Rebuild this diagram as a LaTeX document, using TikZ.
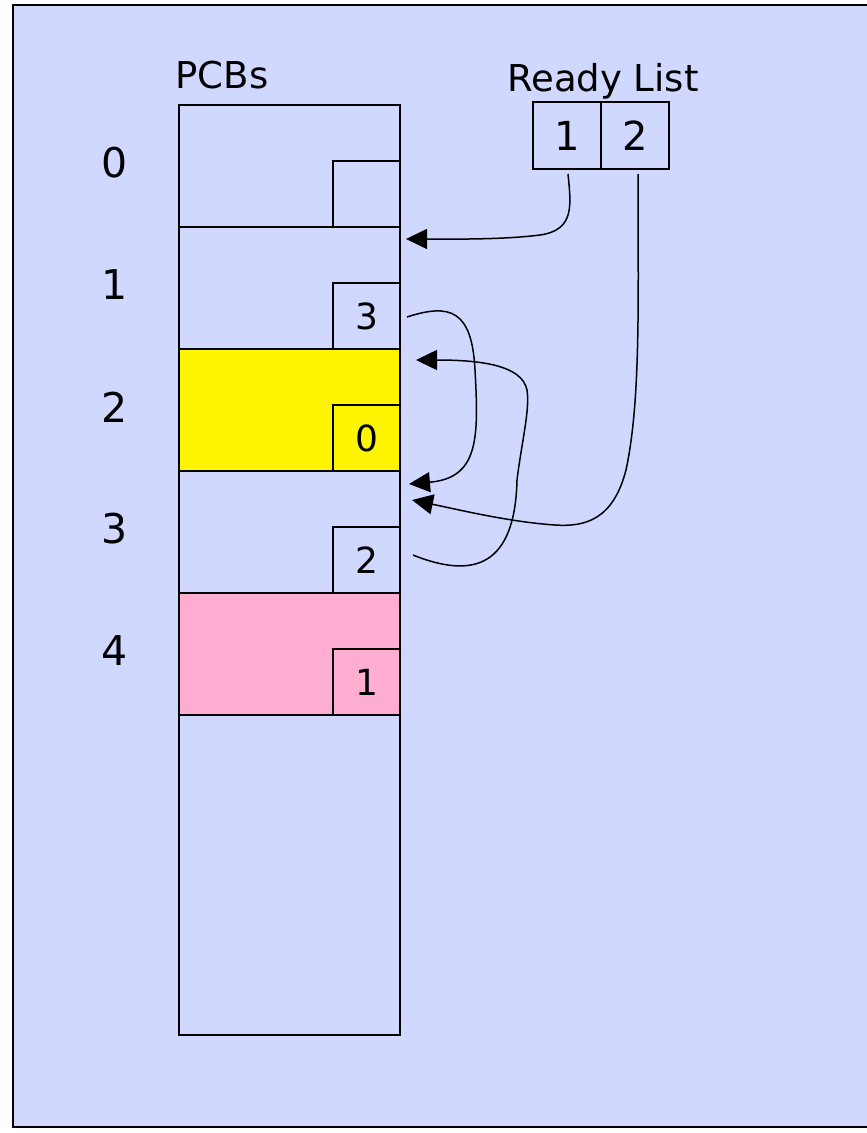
\documentclass[tikz,border=0pt]{standalone}
\usepackage{fontspec}
\setmainfont{DejaVu Sans}
\usetikzlibrary{arrows.meta,calc}
\definecolor{bgblue}{RGB}{208,216,255}
\definecolor{pcbyellow}{RGB}{255,245,0}
\definecolor{pcbpink}{RGB}{255,174,210}
\begin{document}
\begin{tikzpicture}[x=1pt,y=-1pt,
  row/.style={draw, line width=2pt, minimum width=221pt, minimum height=122pt, inner sep=0pt, outer sep=0pt},
  ptr/.style={draw, line width=2pt, minimum width=67pt, minimum height=66pt, inner sep=0pt, outer sep=0pt, font=\fontsize{36}{36}\selectfont},
  rlbox/.style={draw, line width=1.8pt, minimum width=68pt, minimum height=67pt, inner sep=0pt, outer sep=0pt, font=\fontsize{40}{40}\selectfont},
  idx/.style={font=\fontsize{41}{41}\selectfont, inner sep=0pt},
  title/.style={font=\fontsize{37}{37}\selectfont, inner sep=0pt, anchor=base},
  link/.style={line width=1.5pt, -{Triangle[length=21pt,width=20pt]}}]

\useasboundingbox (0,0) rectangle (867,1133);
\clip (0,0) rectangle (867,1133);
\fill[bgblue] (13,5) rectangle (880,1127);
\draw[line width=1.8pt] (880,5) -- (13,5) -- (13,1127) -- (880,1127);

% titles
\node[title] (pcbs) at (222,88) {PCBs};
\node[title] (ready) at (603,91) {Ready List};

% PCB rows
\node[row, fill=bgblue]     (r0) at (289.5,166) {};
\node[row, fill=bgblue]     (r1) at (289.5,288) {};
\node[row, fill=pcbyellow]  (r2) at (289.5,410) {};
\node[row, fill=bgblue]     (r3) at (289.5,532) {};
\node[row, fill=pcbpink]    (r4) at (289.5,654) {};
\node[row, fill=bgblue, minimum height=320pt] (r5) at (289.5,875) {};

% pointer boxes
\node[ptr] (b0) at (366.5,194) {};
\node[ptr] (b1) at (366.5,316) {3};
\node[ptr] (b2) at (366.5,438) {0};
\node[ptr] (b3) at (366.5,560) {2};
\node[ptr] (b4) at (366.5,682) {1};

% row indices
\node[idx] (i0) at (115,163) {0};
\node[idx] (i1) at (115,285) {1};
\node[idx] (i2) at (115,407) {2};
\node[idx] (i3) at (115,529) {3};
\node[idx] (i4) at (115,651) {4};

% ready list
\node[rlbox] (rl1) at (567,135.5) {1};
\node[rlbox] (rl2) at (635,135.5) {2};

% arrow tips
\coordinate (t1) at (406,239);
\coordinate (t2) at (409,484);
\coordinate (t3) at (416,360);
\coordinate (t4) at (412,500);

% connectors
\draw[link] ($(rl1.south)+(1,5)$) .. controls (571,205) and (575,230) .. (540,235)
   .. controls (500,240) and (450,239) .. (t1);
\draw[link] ($(b1.east)+(7,1)$) .. controls (450,303) and (472,310) .. (475,370)
   .. controls (479,440) and (478,478) .. (t2);
\draw[link] ($(b3.east)+(13,-5)$) .. controls (475,580) and (515,565) .. (517,480)
   .. controls (522,440) and (530,410) .. (527,390)
   .. controls (522,365) and (480,360) .. (t3);
\draw[link] ($(rl2.south)+(3,5)$) .. controls (638,300) and (641,400) .. (626,470)
   .. controls (613,520) and (585,527) .. (555,525)
   .. controls (510,522) and (460,510) .. (t4);
\end{tikzpicture}
\end{document}
